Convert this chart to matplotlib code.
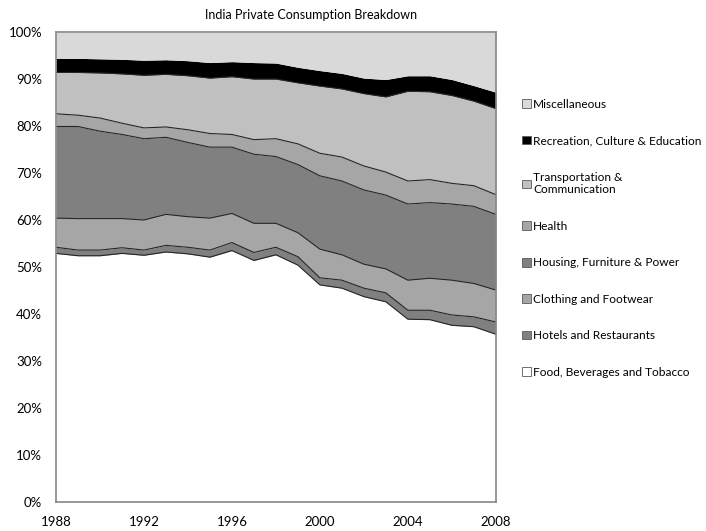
import matplotlib
matplotlib.use("Agg")
import matplotlib.pyplot as plt
from matplotlib.patches import Patch
from matplotlib.ticker import FuncFormatter
import numpy as np

plt.rcParams['font.family'] = ['Lato', 'DejaVu Sans']

years = list(range(1988, 2009))

# shares of private consumption, %
food = [53.0, 52.5, 52.5, 53.0, 52.6, 53.3, 52.9, 52.2, 53.6, 51.5, 52.7,
        50.5, 46.3, 45.6, 43.8, 42.7, 39.0, 38.9, 37.7, 37.4, 35.8]
hotels = [1.3, 1.2, 1.2, 1.2, 1.1, 1.4, 1.4, 1.5, 1.7, 1.7, 1.6,
          1.8, 1.5, 1.7, 1.8, 1.9, 1.9, 2.0, 2.2, 2.1, 2.6]
clothing = [6.2, 6.7, 6.7, 6.2, 6.4, 6.6, 6.5, 6.8, 6.2, 6.2, 5.1,
            5.1, 6.1, 5.4, 5.1, 5.1, 6.4, 6.8, 7.4, 7.1, 6.8]
housing = [19.5, 19.6, 18.6, 17.9, 17.3, 16.4, 15.8, 15.1, 14.1, 14.7, 14.2,
           14.5, 15.6, 15.7, 15.8, 15.7, 16.2, 16.1, 16.2, 16.4, 16.1]
health = [2.7, 2.4, 2.8, 2.4, 2.3, 2.2, 2.7, 2.9, 2.7, 3.1, 3.8,
          4.4, 4.8, 5.1, 5.1, 4.9, 4.9, 4.9, 4.4, 4.4, 4.2]
transport = [8.8, 9.1, 9.6, 10.5, 11.2, 11.2, 11.5, 11.8, 12.3, 12.9, 12.7,
             13.0, 14.3, 14.5, 15.4, 16.0, 19.1, 18.7, 18.7, 18.0, 18.3]
recreation = [3.0, 3.0, 3.0, 3.1, 3.2, 3.1, 3.2, 3.3, 3.2, 3.5, 3.4,
              3.3, 3.3, 3.3, 3.3, 3.7, 3.3, 3.4, 3.4, 3.3, 3.5]
misc = [5.5, 5.5, 5.6, 5.7, 5.9, 5.8, 6.0, 6.4, 6.2, 6.4, 6.5,
        7.4, 8.1, 8.7, 9.7, 10.0, 9.2, 9.2, 10.0, 11.3, 12.7]

labels = ["Food, Beverages and Tobacco", "Hotels and Restaurants",
          "Clothing and Footwear", "Housing, Furniture & Power", "Health",
          "Transportation &\nCommunication", "Recreation, Culture & Education",
          "Miscellaneous"]
series = [food, hotels, clothing, housing, health, transport, recreation, misc]
colors = ["#FFFFFF", "#808080", "#A6A6A6", "#808080", "#A6A6A6",
          "#C0C0C0", "#000000", "#D9D9D9"]

fig = plt.figure(figsize=(7.06, 5.31), dpi=100)
ax = fig.add_axes([0.0793, 0.0537, 0.623, 0.8851])

x = np.array(years)
bottom = np.zeros(len(years))
for vals, c in zip(series, colors):
    top = bottom + np.array(vals)
    ax.fill_between(x, bottom, top, color=c, lw=0)
    bottom = top

# dark border lines between the layers
cum = np.cumsum(np.array(series), axis=0)
for row in cum[:6]:
    ax.plot(x, row, color="#262626", lw=0.8)

ax.set_xlim(1988, 2008)
ax.set_ylim(0, 100)
ax.set_xticks(range(1988, 2009, 4))
ax.set_yticks(range(0, 101, 10))
ax.yaxis.set_major_formatter(FuncFormatter(lambda v, p: "%d%%" % v))
ax.tick_params(length=0, labelsize=9.5)
ax.tick_params(axis="x", pad=10)
ax.tick_params(axis="y", pad=10)
for s in ax.spines.values():
    s.set_color("#868686")
    s.set_linewidth(1.2)

fig.text(0.4405, 0.972, "India Private Consumption Breakdown", ha="center",
         va="center", fontsize=9)

handles = [Patch(facecolor=c, edgecolor="#595959", lw=0.6) for c in colors]
leg = ax.legend(handles[::-1], labels[::-1], loc="upper left",
                bbox_to_anchor=(0.733, 0.823), bbox_transform=fig.transFigure,
                frameon=False, fontsize=8.6, handlelength=0.75, handleheight=0.75,
                handletextpad=0.15, labelspacing=2.13, borderaxespad=0)

plt.savefig("out.png", dpi=100)
